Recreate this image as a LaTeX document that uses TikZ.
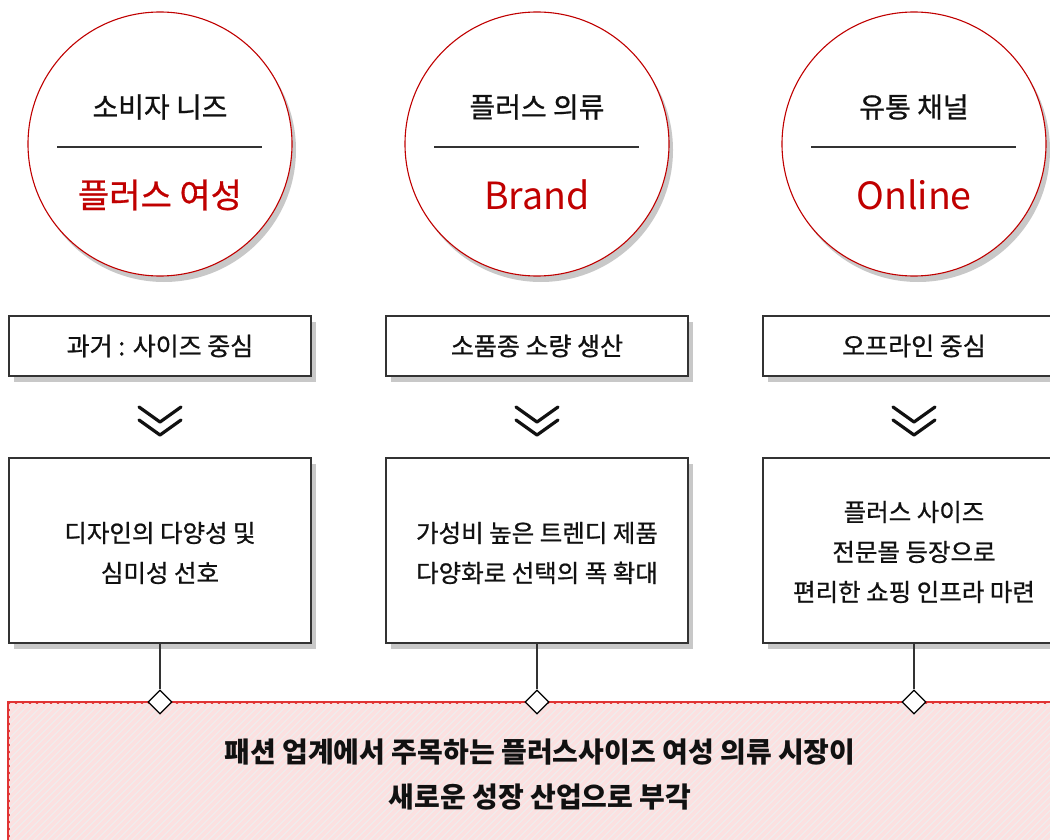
\documentclass[tikz,border=0pt]{standalone}
\usepackage{fontspec}
\setmainfont{Noto Sans CJK KR}
\newfontfamily\medfont{Noto Sans CJK KR}[FakeBold=0.8]
\usetikzlibrary{shapes.geometric,shadows}
\definecolor{cred}{HTML}{C00000}
\definecolor{bred}{HTML}{E03434}
\definecolor{shade}{HTML}{C8C8C8}
\definecolor{boxline}{HTML}{333333}
\definecolor{stripepink}{HTML}{FCE0E0}
\definecolor{stripegray}{HTML}{F0ECEC}
\definecolor{txt}{HTML}{111111}
\begin{document}
\begin{tikzpicture}[x=1pt,y=-1pt,
  circ/.style={circle, draw=cred, line width=1.1pt, fill=white, minimum size=264pt, inner sep=0pt,
    drop shadow={shadow xshift=4pt, shadow yshift=-6pt, fill=shade, opacity=1}},
  topbox/.style={rectangle, draw=boxline, line width=1.2pt, fill=white, minimum width=302pt, minimum height=60pt, inner sep=0pt,
    drop shadow={shadow xshift=5pt, shadow yshift=-6pt, fill=shade, opacity=1}},
  bigbox/.style={rectangle, draw=boxline, line width=1.2pt, fill=white, minimum width=302pt, minimum height=185pt, inner sep=0pt,
    drop shadow={shadow xshift=5pt, shadow yshift=-6pt, fill=shade, opacity=1}},
  ctitle/.style={text=txt, font=\medfont\fontsize{28}{30}\selectfont},
  cred text/.style={text=cred, font=\medfont\fontsize{34}{36}\selectfont},
  clatin/.style={text=cred, font=\fontsize{37.5}{40}\selectfont},
  boxtext/.style={text=txt, font=\medfont\fontsize{25}{30}\selectfont},
  bigtext/.style={text=txt, align=center, font=\medfont\fontsize{24.5}{40}\selectfont},
  divider/.style={draw=boxline, line width=1.1pt},
  chev/.style={line width=3.2pt, line cap=round, line join=round, draw=txt},
  conn/.style={draw=boxline, line width=1.3pt},
  dia/.style={diamond, draw=black, fill=white, line width=1.3pt, minimum width=24pt, minimum height=24pt, inner sep=0pt}
]
\useasboundingbox (0,0) rectangle (1050,840);
\clip (0,0) rectangle (1050,840);

% bottom box with stripes
\node[rectangle, draw=bred, line width=1.5pt, fill=stripegray, minimum width=1100pt, minimum height=160pt, anchor=north west, inner sep=0pt] (bottom) at (8,702) {};
\begin{scope}
  \clip (8.8,702.8) rectangle (1100,860);
  \foreach \i in {-200,-193,...,1100} {
    \draw[stripepink, line width=3.4pt] (\i,860) -- (\i+170,690);
  }
\end{scope}
\draw[draw=bred, line width=1.5pt] (8,860) -- (8,702) -- (1100,702);

\foreach \n/\cx/\top/\bot/\sm in {a/160/소비자 니즈/플러스 여성/cred text, b/537/플러스 의류/Brand/clatin, c/914/유통 채널/Online/clatin} {
  \node[circ] (circ\n) at (\cx,144) {};
  \node[ctitle] (ct\n) at (\cx,107) {\top};
  \node[\sm] (cb\n) at (\cx,195) {\bot};
  \coordinate (dl\n) at (\cx-103,147);
  \coordinate (dr\n) at (\cx+102,147);
  \draw[divider] (dl\n) -- (dr\n);
}

\node[topbox] (sa) at (160,346) {};
\node[boxtext] at (sa.center) {과거 : 사이즈 중심};
\node[topbox] (sb) at (537,346) {};
\node[boxtext] at (sb.center) {소품종 소량 생산};
\node[topbox] (sc) at (914,346) {};
\node[boxtext] at (sc.center) {오프라인 중심};

\foreach \cx in {160,537,914} {
  \draw[chev] (\cx-21,407) -- (\cx,422) -- (\cx+21,407);
  \draw[chev] (\cx-21,420) -- (\cx,435) -- (\cx+21,420);
}

\node[bigbox] (ba) at (160,550.5) {};
\node[bigtext] at (160,553) {디자인의 다양성 및\\심미성 선호};
\node[bigbox] (bb) at (537,550.5) {};
\node[bigtext] at (537,553) {가성비 높은 트렌디 제품\\다양화로 선택의 폭 확대};
\node[bigbox] (bc) at (914,550.5) {};
\node[bigtext] at (914,552) {플러스 사이즈\\전문몰 등장으로\\편리한 쇼핑 인프라 마련};

\node[dia] (da) at (160,702) {};
\node[dia] (db) at (537,702) {};
\node[dia] (dc) at (914,702) {};
\draw[conn] (ba.south) -- (da.north);
\draw[conn] (bb.south) -- (db.north);
\draw[conn] (bc.south) -- (dc.north);

\node[text=txt, align=center, font=\bfseries\fontsize{28}{45}\selectfont] (msg) at (540,775) {패션 업계에서 주목하는 플러스사이즈 여성 의류 시장이\\새로운 성장 산업으로 부각};
\end{tikzpicture}
\end{document}
